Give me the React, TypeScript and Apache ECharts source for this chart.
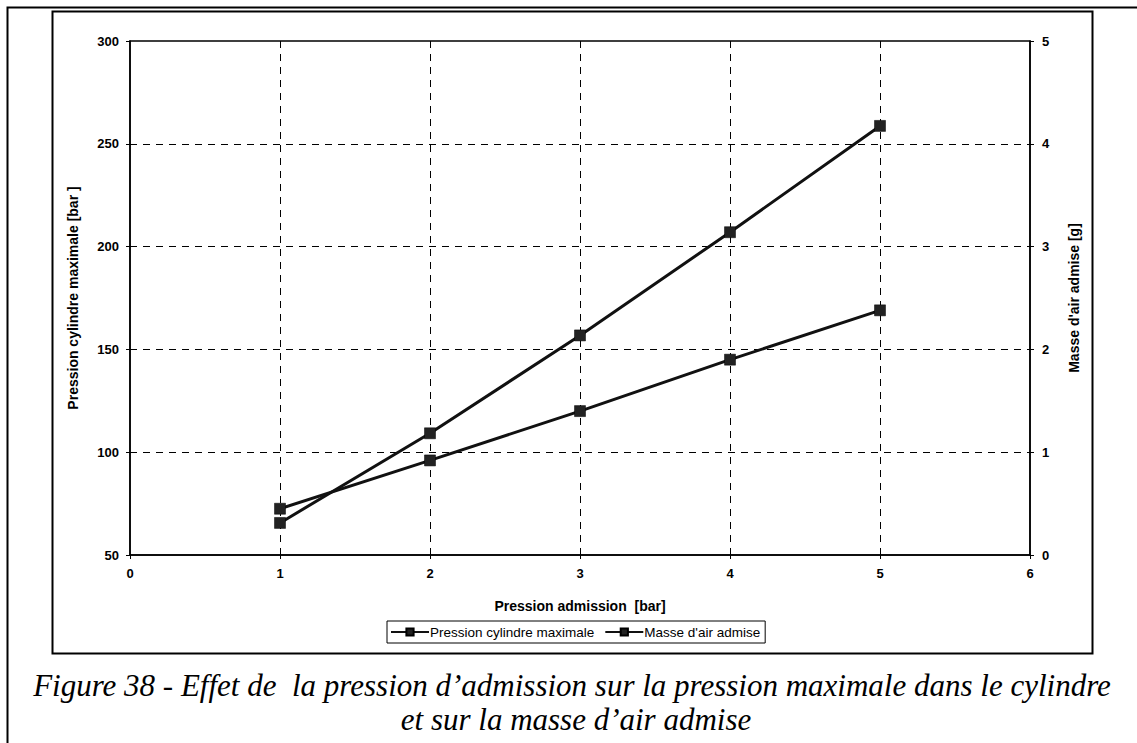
import React, { useEffect, useRef } from "react";
import * as echarts from "echarts";

const xValues = [1, 2, 3, 4, 5];
const pressionCylindre = [65.6, 109.2, 156.8, 207, 258.7];
const masseAir = [0.45, 0.92, 1.4, 1.9, 2.38];
const seriesNames = ["Pression cylindre maximale", "Masse d'air admise"];
const captionLines = [
  "Figure 38 - Effet de  la pression d\u2019admission sur la pression maximale dans le cylindre",
  "et sur la masse d\u2019air admise",
];

export default function App() {
  const ref = useRef<HTMLDivElement>(null);
  useEffect(() => {
    if (!ref.current) return;
    const chart = echarts.init(ref.current, undefined, { renderer: "svg" });
    const font = "'Liberation Sans', Arial, sans-serif";
    const labelStyle = { color: "#000", fontFamily: font, fontWeight: "bold" as const, fontSize: 13 };
    const nameStyle = { color: "#000", fontFamily: font, fontWeight: "bold" as const, fontSize: 14 };
    const dashed = { show: true, lineStyle: { color: "#000", type: [7, 6] as any, width: 1 } };
    const serif = "'Liberation Serif', 'Times New Roman', serif";
    chart.setOption({
      animation: false,
      backgroundColor: "#fff",
      grid: {
        left: 130,
        top: 41,
        right: 107,
        bottom: 188,
        show: true,
        borderColor: "#000",
        borderWidth: 1.5,
        backgroundColor: "transparent",
      },
      legend: {
        data: seriesNames,
        left: 387,
        top: 621,
        itemGap: 10,
        itemWidth: 38,
        itemHeight: 9,
        padding: [4, 5, 4, 3],
        borderColor: "#000",
        borderWidth: 1,
        textStyle: { color: "#000", fontFamily: font, fontSize: 13.5, padding: [0, 0, 0, -4] },
      },
      xAxis: {
        type: "value",
        min: 0,
        max: 6,
        interval: 1,
        name: "Pression admission  [bar]",
        nameLocation: "middle",
        nameGap: 44,
        nameTextStyle: { ...nameStyle },
        axisLine: { show: true, lineStyle: { color: "#000", width: 1.5 } },
        axisTick: { show: true, inside: false, length: 4, lineStyle: { color: "#000" } },
        axisLabel: { ...labelStyle, margin: 12 },
        splitLine: { ...dashed, showMinLine: false, showMaxLine: false },
      },
      yAxis: [
        {
          type: "value",
          min: 50,
          max: 300,
          interval: 50,
          name: "Pression cylindre maximale [bar ]",
          nameLocation: "middle",
          nameGap: 50,
          nameTextStyle: { ...nameStyle },
          axisLine: { show: true, lineStyle: { color: "#000", width: 1.5 } },
          axisTick: { show: true, length: 4, lineStyle: { color: "#000" } },
          axisLabel: { ...labelStyle, margin: 11 },
          splitLine: { ...dashed, showMinLine: false, showMaxLine: false },
        },
        {
          type: "value",
          min: 0,
          max: 5,
          interval: 1,
          position: "right",
          name: "Masse d'air admise [g]",
          nameLocation: "middle",
          nameGap: 37,
          nameRotate: 90,
          nameTextStyle: { ...nameStyle },
          axisLine: { show: true, lineStyle: { color: "#000", width: 1.5 } },
          axisTick: { show: true, length: 4, lineStyle: { color: "#000" } },
          axisLabel: { ...labelStyle, margin: 12 },
          splitLine: { show: false },
        },
      ],
      series: [
        {
          name: seriesNames[0],
          type: "line",
          yAxisIndex: 0,
          data: xValues.map((x, i) => [x, pressionCylindre[i]]),
          symbol: "rect",
          symbolSize: 11,
          lineStyle: { color: "#111", width: 3 },
          itemStyle: { color: "#222", borderColor: "#000", borderWidth: 0.5 },
        },
        {
          name: seriesNames[1],
          type: "line",
          yAxisIndex: 1,
          data: xValues.map((x, i) => [x, masseAir[i]]),
          symbol: "rect",
          symbolSize: 11,
          lineStyle: { color: "#111", width: 3 },
          itemStyle: { color: "#222", borderColor: "#000", borderWidth: 0.5 },
        },
      ],
      graphic: [
        {
          type: "polyline",
          shape: { points: [[7.5, 743], [7.5, 7.5], [1137, 7.5]] },
          style: { stroke: "#000", lineWidth: 2, fill: "none" },
          silent: true,
        },
        {
          type: "rect",
          shape: { x: 52.5, y: 11.5, width: 1040, height: 642 },
          style: { stroke: "#000", lineWidth: 2, fill: "none" },
          silent: true,
        },
        {
          type: "text",
          x: 572,
          y: 685,
          style: {
            text: captionLines[0],
            fontFamily: serif,
            fontStyle: "italic",
            fontSize: 31,
            fill: "#000",
            align: "center",
            verticalAlign: "middle",
          },
        },
        {
          type: "text",
          x: 576,
          y: 719,
          style: {
            text: captionLines[1],
            fontFamily: serif,
            fontStyle: "italic",
            fontSize: 31,
            fill: "#000",
            align: "center",
            verticalAlign: "middle",
          },
        },
      ],
    });
    return () => chart.dispose();
  }, []);
  return (
    <div
      ref={ref}
      style={{ position: "fixed", left: 0, top: 0, width: 1137, height: 743, background: "#fff" }}
    />
  );
}
